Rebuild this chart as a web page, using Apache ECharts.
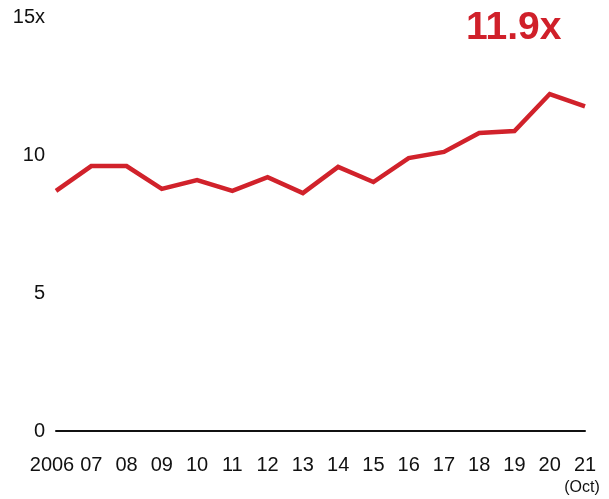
<!DOCTYPE html>
<html>
<head>
<meta charset="utf-8">
<script src="https://cdn.jsdelivr.net/npm/echarts@6/dist/echarts.min.js"></script>
<style>html,body{margin:0;padding:0;background:#fff}#c{width:609px;height:499px}</style>
</head>
<body>
<div id="c"></div>
<script>
var categories = ['2006','07','08','09','10','11','12','13','14','15','16','17','18','19','20','21'];
var values = [8.7, 9.6, 9.6, 8.77, 9.09, 8.7, 9.2, 8.62, 9.57, 9.02, 9.89, 10.11, 10.8, 10.87, 12.21, 11.76];
var yTicks = [0, 5, 10, 15];
var latestLabel = '11.9x';

var chart = echarts.init(document.getElementById('c'), null, {renderer: 'canvas'});
chart.setOption({
  animation: false,
  backgroundColor: '#fff',
  textStyle: {fontFamily: 'Liberation Sans, Arial, sans-serif'},
  title: {
    text: latestLabel,
    left: 466,
    top: 9,
    padding: 0,
    textStyle: {color: '#d0202a', fontSize: 39, fontWeight: 'bold', fontFamily: 'Liberation Sans, Arial, sans-serif'}
  },
  grid: {left: 56, right: 24, top: 17, bottom: 68},
  xAxis: {
    type: 'category',
    data: categories,
    boundaryGap: false,
    axisLine: {lineStyle: {color: '#111', width: 2}},
    axisTick: {show: false},
    axisLabel: {
      interval: 0,
      margin: 23,
      color: '#111',
      fontSize: 20,
      lineHeight: 22,
      formatter: function (v, i) {
        if (i === 0) return '{f|' + v + '}';
        return i === categories.length - 1 ? v + '\n{s|(Oct)}' : v;
      },
      rich: {
        f: {fontSize: 20, color: '#111', lineHeight: 22, padding: [0, 8, 0, 0]},
        s: {fontSize: 16, color: '#111', lineHeight: 20, padding: [4, 6, 0, 0]}
      }
    }
  },
  yAxis: {
    type: 'value',
    min: 0,
    max: 15,
    interval: 5,
    axisLine: {show: false},
    axisTick: {show: false},
    splitLine: {show: false},
    axisLabel: {
      color: '#111',
      fontSize: 20,
      margin: 11,
      formatter: function (v) { return yTicks.indexOf(v) >= 0 ? (v === 15 ? v + 'x' : String(v)) : ''; }
    }
  },
  series: [{
    type: 'line',
    data: values,
    symbol: 'none',
    lineStyle: {color: '#d1222b', width: 4.5, join: 'miter'},
    itemStyle: {color: '#d1222b'}
  }]
});
</script>
</body>
</html>
